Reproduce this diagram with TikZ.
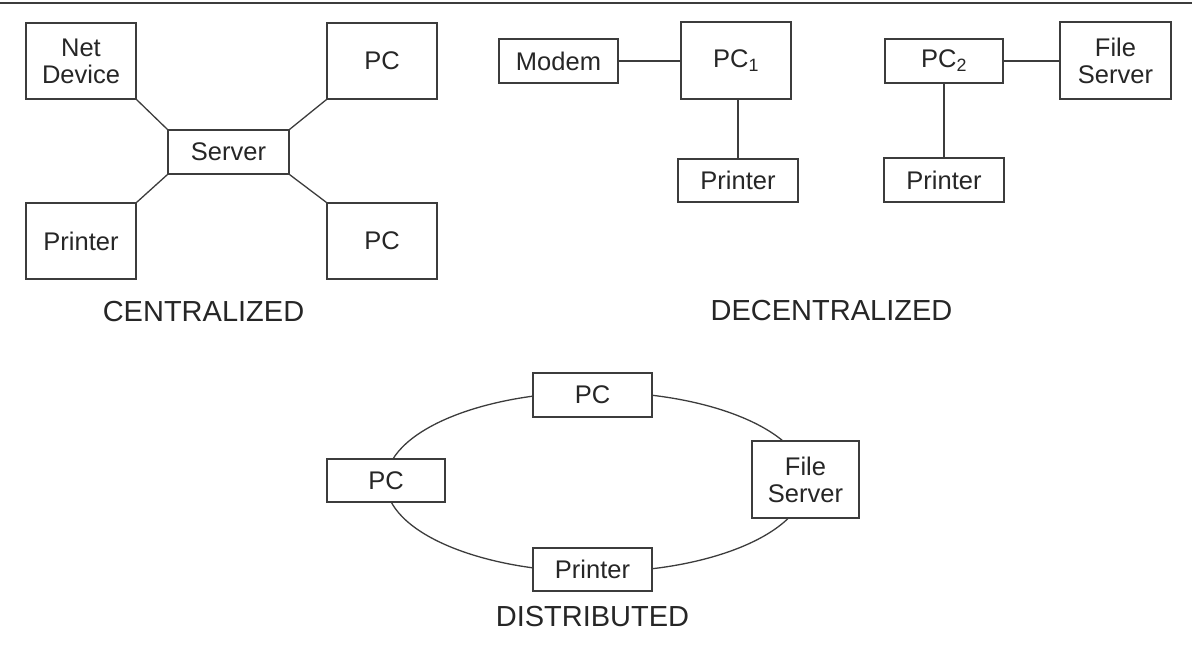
\documentclass[tikz,border=0pt]{standalone}
\usepackage{fontspec}
\setmainfont{Liberation Sans}
\usetikzlibrary{shapes.geometric}
\definecolor{ink}{RGB}{38,38,38}
\definecolor{wire}{RGB}{60,60,60}
\tikzset{
  box/.style={draw=wire, line width=1.3pt, fill=white, rectangle, inner sep=0pt,
    text=ink, font=\fontsize{25.5}{27}\selectfont, align=center},
  conn/.style={draw=wire, line width=1.3pt},
  title/.style={text=ink, font=\fontsize{29}{32}\selectfont, inner sep=0pt}
}
\newcommand{\bx}[6]{% name, x1, y1, x2, y2, text
  \node[box, minimum width={#4-#2}, minimum height={#5-#3}] (#1) at ({(#2+#4)/2},{(#3+#5)/2}) {#6};}
\begin{document}
\begin{tikzpicture}[x=1pt,y=-1pt]
\useasboundingbox (0,0) rectangle (1192,646);
\draw[wire, line width=2pt] (0,3) -- (1192,3);

% CENTRALIZED
\bx{nd}{26}{23}{136}{99}{Net\\Device}
\bx{cpa}{327}{23}{437}{99}{PC}
\bx{srv}{168}{130}{289}{174}{Server}
\bx{cpr}{26}{203}{136}{279}{Printer}
\bx{cpb}{327}{203}{437}{279}{PC}
\draw[conn] (nd.south east) -- (srv.north west);
\draw[conn] (cpa.south west) -- (srv.north east);
\draw[conn] (cpr.north east) -- (srv.south west);
\draw[conn] (cpb.north west) -- (srv.south east);
\node[title] (tc) at (203.5,312) {CENTRALIZED};

% DECENTRALIZED
\bx{mod}{499}{39}{618}{83}{Modem}
\bx{pco}{681}{22}{791}{99}{PC\textsubscript{1}}
\bx{dpa}{678}{159}{798}{202}{Printer}
\draw[conn] (mod.east) -- (mod.east -| pco.west);
\draw[conn] (dpa.north) -- (dpa.north |- pco.south);
\bx{pct}{885}{39}{1003}{83}{PC\textsubscript{2}}
\bx{dfs}{1060}{22}{1171}{99}{File\\Server}
\bx{dpb}{884}{158}{1004}{202}{Printer}
\draw[conn] (pct.east) -- (pct.east -| dfs.west);
\draw[conn] (pct.south) -- (dpb.north);
\node[title] (td) at (831.5,311) {DECENTRALIZED};

% DISTRIBUTED
\node[ellipse, draw=wire, line width=1.3pt, inner sep=0pt, minimum width=420pt, minimum height=180pt] (ring) at (596,482) {};
\bx{tpc}{533}{373}{652}{417}{PC}
\bx{lpc}{327}{459}{445}{502}{PC}
\bx{fs}{752}{441}{859}{518}{File\\Server}
\bx{bpr}{533}{548}{652}{591}{Printer}
\node[title] (tdi) at (592.5,616.5) {DISTRIBUTED};
\end{tikzpicture}
\end{document}
